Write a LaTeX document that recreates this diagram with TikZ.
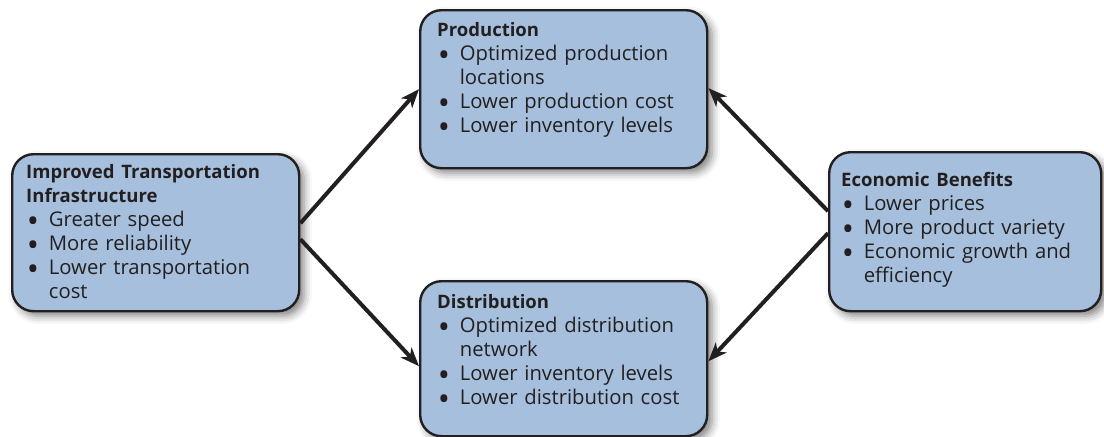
\documentclass[tikz,border=0pt]{standalone}
\usepackage{fontspec}
\setmainfont{Open Sans}
\usetikzlibrary{arrows.meta,shadows.blur}
\definecolor{boxblue}{RGB}{165,191,220}
\definecolor{ink}{RGB}{35,31,32}
\newcommand{\head}[1]{{\fontsize{13.9pt}{18pt}\selectfont\bfseries #1}}
\newcommand{\bul}[1]{\\\makebox[17pt][l]{\hspace{0.5pt}\smash{\raisebox{-0.3em}{\scalebox{1.6}{\textbullet}}}}#1}
\newcommand{\cont}[1]{\\\hspace*{17pt}#1}
\begin{document}
\begin{tikzpicture}[x=0.75pt,y=-0.75pt,
 stage/.style={draw=ink,line width=1.8pt,fill=boxblue,rounded corners=16pt,anchor=north west,
  inner ysep=0pt,align=left,font=\fontsize{15.2pt}{18pt}\selectfont,text=ink,
  blur shadow={shadow xshift=3.5pt,shadow yshift=-3.5pt,shadow blur radius=6pt,shadow opacity=50}},
 link/.style={draw=ink,line width=3pt,-{Stealth[length=14pt,width=11pt,inset=4pt]}}]
 \useasboundingbox (0,0) rectangle (1104,436);
 \node[stage,inner xsep=10.5pt,text width=194.25pt,text height=18pt,text depth=99.75pt] (infra) at (11,153)
  {\head{Improved Transportation}\\\head{Infrastructure}\bul{Greater speed}\bul{More reliability}\bul{Lower transportation}\cont{cost}};
 \node[stage,inner xsep=12.75pt,text width=189.75pt,text height=19.5pt,text depth=99pt] (prod) at (419,9)
  {\head{Production}\bul{Optimized production}\cont{locations}\bul{Lower production cost}\bul{Lower inventory levels}};
 \node[stage,inner xsep=12.75pt,text width=189.75pt,text height=20.25pt,text depth=96pt] (dist) at (419,280)
  {\head{Distribution}\bul{Optimized distribution}\cont{network}\bul{Lower inventory levels}\bul{Lower distribution cost}};
 \node[stage,inner xsep=9pt,text width=186pt,text height=25.5pt,text depth=93.75pt] (econ) at (828,151)
  {\head{Economic Benefits}\bul{Lower prices}\bul{More product variety}\bul{Economic growth and}\cont{efficiency}};
 \draw[link] ([yshift=7.1pt]infra.east) -- (prod.west);
 \draw[link] ([yshift=-4.9pt]infra.east) -- ([yshift=-5.6pt]dist.west);
 \draw[link] ([yshift=15.4pt]econ.west) -- ([yshift=0.8pt]prod.east);
 \draw[link] ([yshift=-1.1pt]econ.west) -- ([yshift=-1.9pt]dist.east);
\end{tikzpicture}
\end{document}
